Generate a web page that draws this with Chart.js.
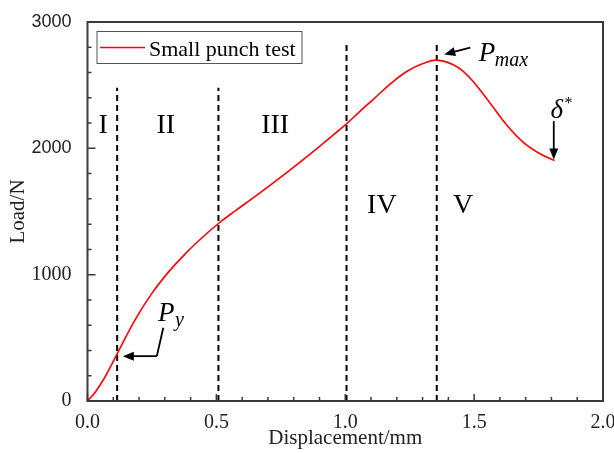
<!DOCTYPE html>
<html>
<head>
<meta charset="utf-8">
<script src="https://cdn.jsdelivr.net/npm/chart.js@4"></script>
<style>
  html, body { margin: 0; padding: 0; background: #fff; }
  #wrap { width: 614px; height: 453px; }
</style>
</head>
<body>
<div id="wrap"><canvas id="spChart" width="614" height="453"></canvas></div>
<script>
// displacement (mm) and load (N)
const displacement = [0, 0.03, 0.068, 0.113, 0.184, 0.249, 0.314, 0.379, 0.443, 0.508, 0.573, 0.644, 0.774, 0.903, 1.0, 1.058, 1.11, 1.175, 1.24, 1.304, 1.356, 1.421, 1.46, 1.498, 1.563, 1.628, 1.692, 1.757, 1.812]
const load = [0, 70, 190, 365, 640, 850, 1020, 1165, 1290, 1405, 1505, 1610, 1810, 2020, 2185, 2295, 2390, 2510, 2610, 2673, 2698, 2660, 2605, 2525, 2355, 2180, 2045, 1955, 1904]

// stage boundaries (vertical dashed lines)
const stageBounds = [0.115, 0.508, 1.005, 1.355]
const stageTops = [2480, 2480, 2840, 2840]
const stageNames = ['I', 'II', 'III', 'IV', 'V']

const xTicks = [0, 0.5, 1.0, 1.5, 2.0]
const yTicks = [0, 1000, 2000, 3000]

const SERIF = '"Liberation Serif", "DejaVu Serif", serif'

const dashedSets = stageBounds.map((b, i) => ({
    label: 'stage' + i,
    data: [{x: b, y: 0}, {x: b, y: stageTops[i]}],
    borderColor: '#000',
    borderWidth: 2,
    borderDash: [6, 4],
    pointRadius: 0,
    fill: false
}))

const arrow = (ctx, x1, y1, x2, y2) => {
    const a = Math.atan2(y2 - y1, x2 - x1)
    const len = 11, w = 4.5
    ctx.beginPath()
    ctx.moveTo(x1, y1)
    ctx.lineTo(x2 - Math.cos(a) * len * 0.8, y2 - Math.sin(a) * len * 0.8)
    ctx.stroke()
    ctx.beginPath()
    ctx.moveTo(x2, y2)
    ctx.lineTo(x2 - Math.cos(a) * len + Math.sin(a) * w, y2 - Math.sin(a) * len - Math.cos(a) * w)
    ctx.lineTo(x2 - Math.cos(a) * len - Math.sin(a) * w, y2 - Math.sin(a) * len + Math.cos(a) * w)
    ctx.closePath()
    ctx.fill()
}

const decorations = {
    id: 'decorations',
    afterDatasetsDraw: (chart) => {
        const {ctx, chartArea: ca, scales} = chart
        const X = v => scales.x.getPixelForValue(v)
        const Y = v => scales.y.getPixelForValue(v)
        ctx.save()

        // frame
        ctx.strokeStyle = '#3a3a3a'
        ctx.lineWidth = 2
        ctx.strokeRect(ca.left, ca.top, ca.right - ca.left, ca.bottom - ca.top)

        // inward ticks
        ctx.lineWidth = 1.5
        ctx.beginPath()
        for (let i = 0; i <= 20; i++) {
            const px = X(i / 10)
            const l = i % 5 === 0 ? 7 : 4
            ctx.moveTo(px, ca.bottom)
            ctx.lineTo(px, ca.bottom - l)
        }
        for (let i = 0; i <= 15; i++) {
            const py = Y(i * 200)
            const l = i % 5 === 0 ? 8 : 4
            ctx.moveTo(ca.left, py)
            ctx.lineTo(ca.left + l, py)
        }
        ctx.stroke()

        // stage labels
        ctx.fillStyle = '#000'
        ctx.strokeStyle = '#000'
        ctx.font = '28px ' + SERIF
        ctx.textAlign = 'center'
        ctx.textBaseline = 'alphabetic'
        const stagePos = [[0.061, 2123], [0.304, 2123], [0.728, 2123], [1.142, 1490], [1.457, 1490]]
        stageNames.forEach((n, i) => ctx.fillText(n, X(stagePos[i][0]), Y(stagePos[i][1])))

        // legend
        const lx = ca.left + 9.5, ly = ca.top + 9.5
        ctx.lineWidth = 1
        ctx.strokeStyle = '#555'
        ctx.strokeRect(lx, ly, 205, 32)
        ctx.strokeStyle = '#ff0000'
        ctx.lineWidth = 1.5
        ctx.beginPath()
        ctx.moveTo(lx + 3, ly + 16)
        ctx.lineTo(lx + 48, ly + 16)
        ctx.stroke()
        ctx.textAlign = 'left'
        ctx.font = '22px ' + SERIF
        ctx.fillText(chart.data.datasets[0].label, lx + 52, ly + 24)

        // P_max
        ctx.strokeStyle = '#000'
        ctx.lineWidth = 1.8
        arrow(ctx, X(1.485), Y(2797), X(1.384), Y(2743))
        ctx.font = 'italic 27px ' + SERIF
        ctx.fillText('P', X(1.518), Y(2691))
        ctx.font = 'italic 20px ' + SERIF
        ctx.fillText('max', X(1.518) + 16, Y(2691) + 5)

        // P_y
        ctx.beginPath()
        ctx.moveTo(X(0.294), Y(580))
        ctx.lineTo(X(0.269), Y(355))
        ctx.stroke()
        arrow(ctx, X(0.269), Y(355), X(0.137), Y(355))
        ctx.font = 'italic 27px ' + SERIF
        ctx.fillText('P', X(0.274), Y(631))
        ctx.font = 'italic 20px ' + SERIF
        ctx.fillText('y', X(0.274) + 17, Y(631) + 5)

        // delta*
        arrow(ctx, X(1.809), Y(2215), X(1.809), Y(1912))
        ctx.font = 'italic 27px ' + SERIF
        ctx.fillText('δ', X(1.796), Y(2242))
        ctx.font = '16px ' + SERIF
        ctx.fillText('*', X(1.796) + 14, Y(2242) - 10)

        ctx.restore()
    }
}

new Chart(document.getElementById('spChart'), {
    type: 'line',
    data: {
        datasets: [{
            label: 'Small punch test',
            data: displacement.map((d, i) => ({x: d, y: load[i]})),
            borderColor: '#ff0000',
            borderWidth: 1.6,
            pointRadius: 0,
            tension: 0.4,
            fill: false
        }].concat(dashedSets)
    },
    options: {
        responsive: false,
        animation: false,
        layout: {
            padding: {left: 0, right: 11, top: 22, bottom: 0}
        },
        plugins: {
            legend: {display: false},
            tooltip: {enabled: false}
        },
        scales: {
            x: {
                type: 'linear',
                min: 0,
                max: 2,
                grid: {display: false},
                border: {display: false},
                afterBuildTicks: (s) => { s.ticks = xTicks.map(v => ({value: v})) },
                afterFit: (s) => { s.height = 52; s.paddingLeft = 0; s.paddingRight = 0 },
                ticks: {
                    autoSkip: false,
                    maxRotation: 0,
                    padding: 2,
                    color: '#222',
                    font: {family: SERIF, size: 20},
                    callback: (v) => v.toFixed(1)
                },
                title: {
                    display: true,
                    text: 'Displacement/mm',
                    color: '#222',
                    padding: {top: 0, bottom: 2},
                    font: {family: SERIF, size: 21}
                }
            },
            y: {
                min: 0,
                max: 3000,
                grid: {display: false},
                border: {display: false},
                afterBuildTicks: (s) => { s.ticks = yTicks.map(v => ({value: v})) },
                afterFit: (s) => { s.width = 87.5; s.paddingTop = 0; s.paddingBottom = 0 },
                ticks: {
                    autoSkip: false,
                    padding: 8,
                    color: '#222',
                    callback: (v) => String(v),
                    font: (c) => (c.tick && c.tick.value >= 2000)
                        ? {family: '"Liberation Sans", Arial, sans-serif', size: 18}
                        : {family: SERIF, size: 20}
                },
                title: {
                    display: true,
                    text: 'Load/N',
                    color: '#222',
                    padding: {top: 6, bottom: 0},
                    font: {family: SERIF, size: 21}
                }
            }
        }
    },
    plugins: [decorations]
})
</script>
</body>
</html>
